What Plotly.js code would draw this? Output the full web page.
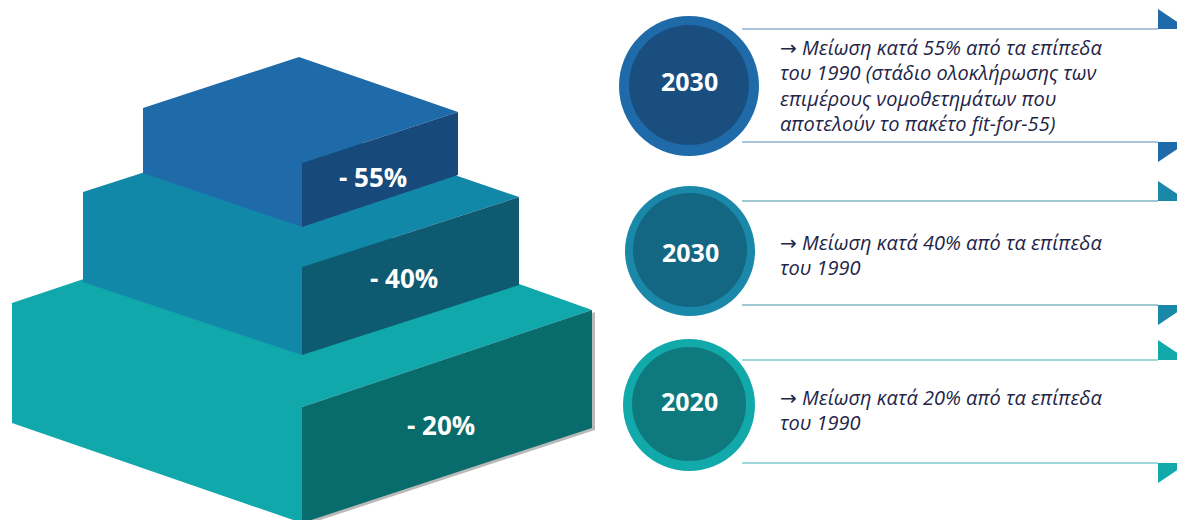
<!DOCTYPE html>
<html>
<head>
<meta charset="utf-8">
<script src="https://cdn.plot.ly/plotly-3.0.1.min.js"></script>
<style>html,body{margin:0;padding:0;background:#fff;}#chart{width:1177px;height:520px;}</style>
</head>
<body>
<div id="chart"></div>
<script>
// ---- data (bottom tier first) ----
const tierLabels = ['- 20%', '- 40%', '- 55%'];
const tierLight  = ['#10A8AA', '#1288A8', '#1F6BAA'];
const tierDark   = ['#086C6C', '#0E5A70', '#17497A'];

// right-hand rows, top to bottom
const years = ['2030', '2030', '2020'];
const descriptions = [
  ['→ Μείωση κατά 55% από τα επίπεδα', 'του 1990 (στάδιο ολοκλήρωσης των', 'επιμέρους νομοθετημάτων που', 'αποτελούν το πακέτο fit-for-55)'],
  ['→ Μείωση κατά 40% από τα επίπεδα', 'του 1990'],
  ['→ Μείωση κατά 20% από τα επίπεδα', 'του 1990']
];
const rowOuter = ['#1F6BAA', '#1A88A9', '#12A9AA'];
const rowInner = ['#1A4E7F', '#136783', '#0E7A7E'];
const rowLine  = ['#8FB0CF', '#7DB6C6', '#7CCDCD'];

// ---- layout geometry (pixels) ----
const tierGeom = [
  {xL: 12,  xF: 302, xR: 592, Lt: 303, Lb: 423, Ft: 407, Fb: 523, Rt: 310, Rb: 428, lx: 441, ly: 425},
  {xL: 83,  xF: 302, xR: 519, Lt: 192, Lb: 282, Ft: 267, Fb: 355, Rt: 197, Rb: 285, lx: 404, ly: 278},
  {xL: 143, xF: 302, xR: 458, Lt: 108, Lb: 173, Ft: 163, Fb: 227, Rt: 112, Rb: 175, lx: 373, ly: 177}
];
const rowGeom = [
  {cx: 689, cy: 86,  R: 70, r: 60, yTop: 29,  yBot: 142, textY: 47,  ty: 81},
  {cx: 690, cy: 251, R: 65, r: 57, yTop: 201, yBot: 305, textY: 242, ty: 252},
  {cx: 689, cy: 405, R: 66, r: 57, yTop: 360, yBot: 463, textY: 397, ty: 401}
];
const lineH = 25.5, textX = 778, lineX0 = 742, triX = 1158, triW = 30, triH = 20;

const shapes = [], annotations = [];
const P = pts => 'M ' + pts.map(p => p[0] + ',' + p[1]).join(' L ') + ' Z';
const fmtLine = s => '<i>' + s.replace('→', '<span style="font-family:DejaVu Sans">→</span>') + '</i>';

tierLabels.forEach((lab, i) => {
  const g = tierGeom[i];
  const back = [g.xL + g.xR - g.xF, g.Lt + g.Rt - g.Ft];
  if (i === 0) {
    shapes.push({type: 'path', xref: 'x', yref: 'y', layer: 'below',
      path: P([[g.xF, g.Ft + 2], [g.xR + 3, g.Rt + 2], [g.xR + 3, g.Rb + 2], [g.xF, g.Fb + 3]]),
      fillcolor: '#B9B9B9', line: {width: 0}});
  }
  shapes.push({type: 'path', xref: 'x', yref: 'y', layer: 'below',
    path: P([[g.xL, g.Lt], back, [g.xR, g.Rt], [g.xF, g.Ft], [g.xF, g.Fb], [g.xL, g.Lb]]),
    fillcolor: tierLight[i], line: {width: 0}});
  shapes.push({type: 'path', xref: 'x', yref: 'y', layer: 'below',
    path: P([[g.xF, g.Ft], [g.xR, g.Rt], [g.xR, g.Rb], [g.xF, g.Fb]]),
    fillcolor: tierDark[i], line: {width: 0}});
  annotations.push({x: g.lx, y: g.ly, xref: 'x', yref: 'y', text: '<b>' + lab + '</b>', showarrow: false,
    font: {family: 'Open Sans, sans-serif', size: 26, color: '#FFFFFF'}, xanchor: 'center', yanchor: 'middle'});
});

years.forEach((yr, i) => {
  const g = rowGeom[i];
  [g.yTop, g.yBot].forEach(yy => shapes.push({type: 'line', xref: 'x', yref: 'y', layer: 'below',
    x0: lineX0, x1: triX, y0: yy, y1: yy, line: {color: rowLine[i], width: 1.5}}));
  shapes.push({type: 'path', xref: 'x', yref: 'y', layer: 'below',
    path: P([[triX, g.yTop - triH], [triX, g.yTop], [triX + triW, g.yTop]]),
    fillcolor: rowOuter[i], line: {width: 0}});
  shapes.push({type: 'path', xref: 'x', yref: 'y', layer: 'below',
    path: P([[triX, g.yBot], [triX + triW, g.yBot], [triX, g.yBot + triH]]),
    fillcolor: rowOuter[i], line: {width: 0}});
  shapes.push({type: 'circle', xref: 'x', yref: 'y', layer: 'below',
    x0: g.cx - g.R, x1: g.cx + g.R, y0: g.cy - g.R, y1: g.cy + g.R,
    fillcolor: rowOuter[i], line: {width: 0}});
  shapes.push({type: 'circle', xref: 'x', yref: 'y', layer: 'below',
    x0: g.cx - g.r, x1: g.cx + g.r, y0: g.cy - 1 - g.r, y1: g.cy - 1 + g.r,
    fillcolor: rowInner[i], line: {width: 0}});
  annotations.push({x: g.cx, y: g.ty, xref: 'x', yref: 'y', text: '<b>' + yr + '</b>', showarrow: false,
    font: {family: 'Open Sans, sans-serif', size: 25, color: '#FFFFFF'}, xanchor: 'center', yanchor: 'middle'});
  descriptions[i].forEach((ln, k) => {
    annotations.push({x: textX, y: g.textY + k * lineH, xref: 'x', yref: 'y', text: fmtLine(ln),
      showarrow: false, font: {family: 'Open Sans, sans-serif', size: 20, color: '#1E2548'},
      xanchor: 'left', yanchor: 'middle'});
  });
});

const layout = {
  width: 1177, height: 520,
  margin: {l: 0, r: 0, t: 0, b: 0},
  paper_bgcolor: '#FFFFFF', plot_bgcolor: '#FFFFFF',
  xaxis: {range: [0, 1177], visible: false, fixedrange: true},
  yaxis: {range: [520, 0], visible: false, fixedrange: true},
  showlegend: false,
  shapes: shapes,
  annotations: annotations
};
Plotly.newPlot('chart', [{x: [], y: [], type: 'scatter', hoverinfo: 'skip'}], layout, {staticPlot: true, displayModeBar: false});
</script>
</body>
</html>
